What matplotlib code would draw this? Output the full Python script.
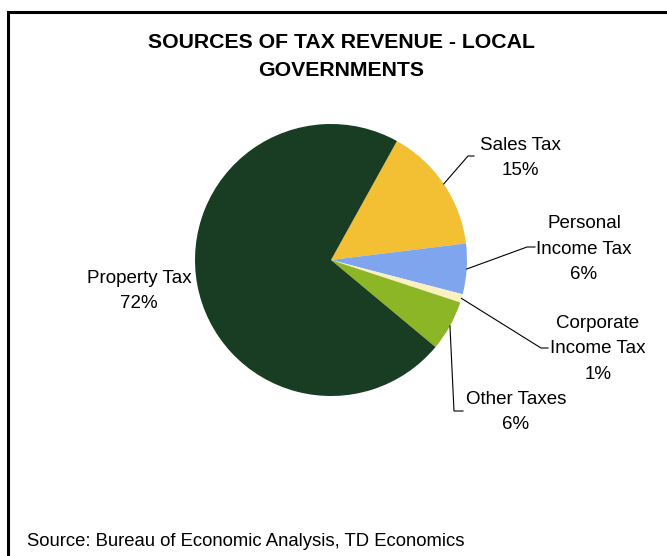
import numpy as np
import matplotlib
matplotlib.use("Agg")
from matplotlib import pyplot as plt
from matplotlib.patches import Rectangle

plt.rcParams["font.family"] = ["Liberation Sans", "DejaVu Sans"]

# tax revenue shares, local governments (%)
labels = ["Sales Tax", "Personal\nIncome Tax", "Corporate\nIncome Tax", "Other Taxes", "Property Tax"]
shares = [15, 6, 1, 6, 72]
colors = ["#f2c032", "#7ea5ee", "#fbf0c0", "#8db626", "#183d23"]

W, H = 667, 556
CX, CY, R = 331, 260, 136  # pie centre and radius, pixels from top-left

fig = plt.figure(figsize=(W / 100, H / 100), dpi=100)
ax = fig.add_axes([(CX - R) / W, (H - CY - R) / H, 2 * R / W, 2 * R / H])
wedges, _ = ax.pie(shares, colors=colors, startangle=61, counterclock=False,
                   radius=1, wedgeprops=dict(linewidth=0))
ax.set_xlim(-1, 1)
ax.set_ylim(-1, 1)
ax.set_aspect("equal")
ax.axis("off")


def to_data(px, py):
    return (px - CX) / R, (CY - py) / R


# label centre, leader elbow, leader end (pixels); None = no leader
label_spots = [
    ((520, 158), (468, 156), (474, 156)),
    ((584, 249), (527, 247), (535, 247)),
    ((598, 349), (541, 348), (548, 348)),
    ((516, 412), (454, 411), (463, 411)),
    ((139, 291), None, None),
]

for w, lab, val, (txt, elbow, end) in zip(wedges, labels, shares, label_spots):
    tx, ty = to_data(*txt)
    ax.text(tx, ty, f"{lab}\n{val}%", ha="center", va="center", fontsize=13.5,
            linespacing=1.65, clip_on=False)
    if elbow is None:
        continue
    mid = np.deg2rad((w.theta1 + w.theta2) / 2)
    ex, ey = np.cos(mid), np.sin(mid)
    bx, by = to_data(*elbow)
    hx, hy = to_data(*end)
    ax.plot([ex, bx, hx], [ey, by, hy], color="black", lw=0.8, clip_on=False)

fig.text(341 / W, 1 - 57 / H, "SOURCES OF TAX REVENUE - LOCAL\nGOVERNMENTS",
         ha="center", va="center", fontsize=15.3, fontweight="bold", linespacing=1.6)
fig.text(27 / W, 1 - 541 / H, "Source: Bureau of Economic Analysis, TD Economics",
         ha="left", va="center", fontsize=13.3)

# chart frame
fig.patches.append(Rectangle((8 / W, -0.1), 1.2, 1.1 - 11.5 / H, transform=fig.transFigure,
                             fill=False, edgecolor="black", lw=2.2))

fig.savefig("out.png", dpi=100)
